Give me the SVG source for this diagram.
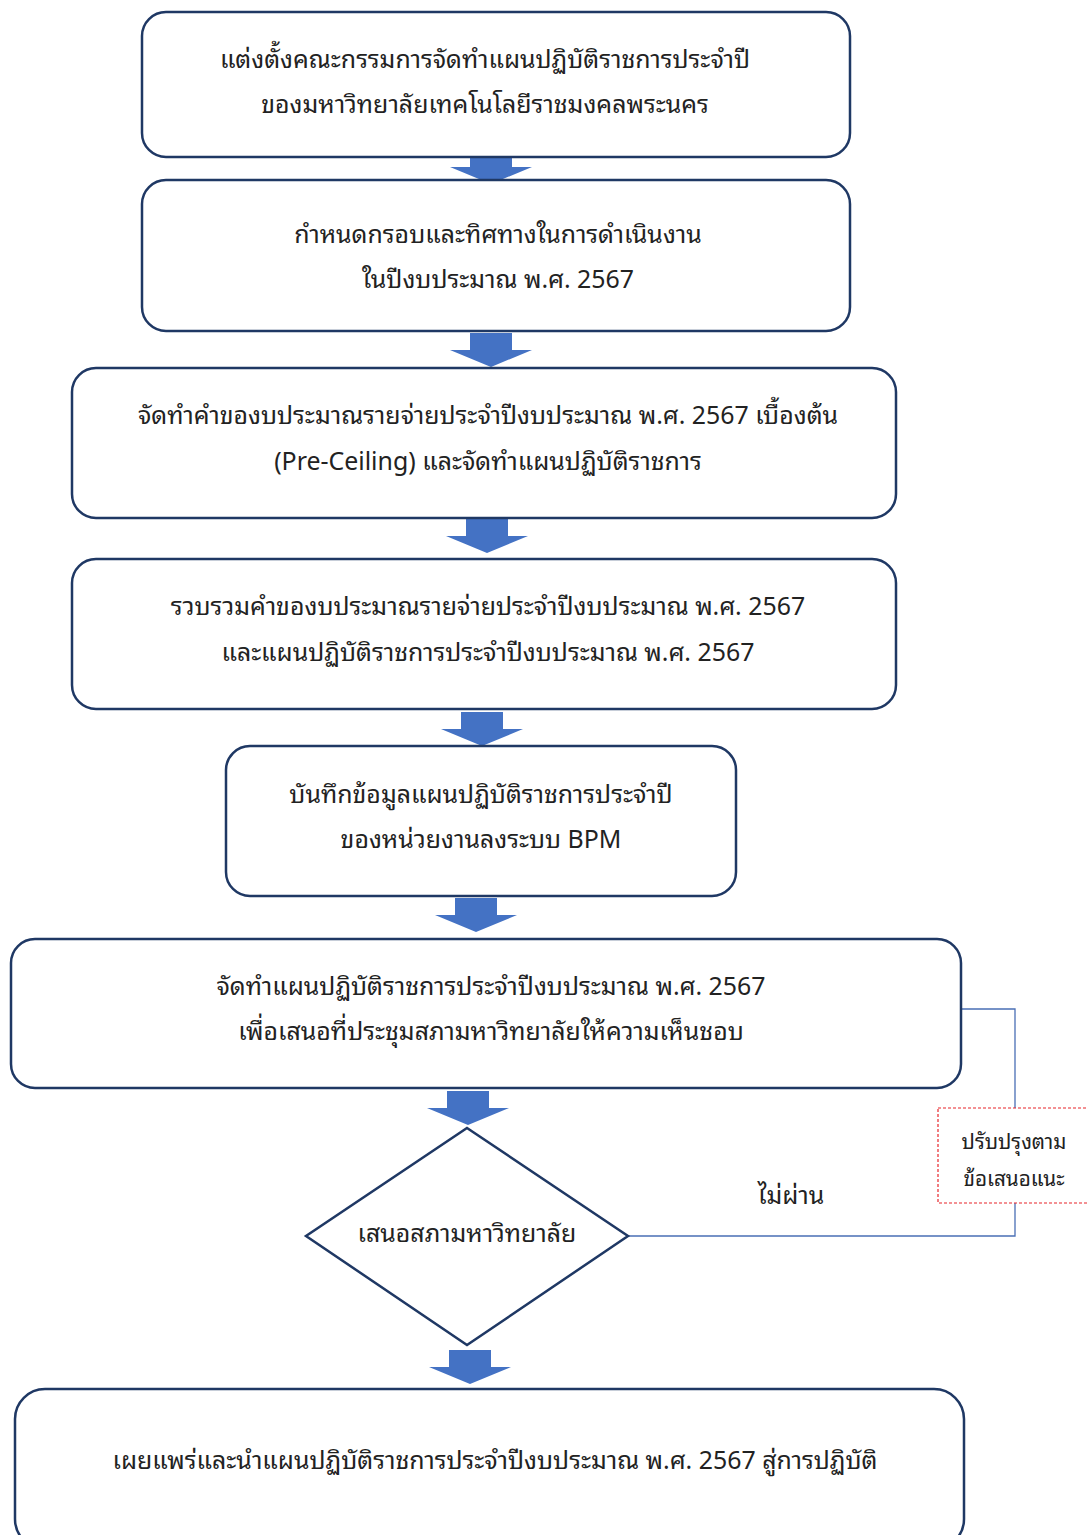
<svg xmlns="http://www.w3.org/2000/svg" width="1088" height="1535" viewBox="0 0 1088 1535">
<defs>
<style>
.box{fill:#fff;stroke:#1f3864;stroke-width:2.5}
.t{font-family:"Noto Sans Thai Looped","Loma","Garuda","Noto Sans Thai","Noto Sans","DejaVu Sans",sans-serif;font-size:24.9px;fill:#222;text-anchor:middle}
.s{font-size:20.7px}
.ba{fill:#4472c4}
.conn{fill:none;stroke:#4a6fb5;stroke-width:1.3}
</style>
<path id="barrow" d="M-21,0 H21 V17 H41 L0,34 L-41,17 H-21 Z"/>
</defs>
<rect width="1088" height="1535" fill="#fff"/>
<g id="connectors">
<polyline class="conn" points="961,1009 1015,1009 1015,1236 628,1236"/>
<use href="#barrow" class="ba" x="491" y="150"/>
<use href="#barrow" class="ba" x="491" y="333"/>
<use href="#barrow" class="ba" x="487" y="519"/>
<use href="#barrow" class="ba" x="482" y="712"/>
<use href="#barrow" class="ba" x="476" y="898"/>
<use href="#barrow" class="ba" x="468" y="1091"/>
<use href="#barrow" class="ba" x="470" y="1350"/>
<text class="t" x="791" y="1204">ไม่ผ่าน</text>
</g>
<g id="n1"><rect class="box" x="142" y="12" width="708" height="145" rx="24"/>
<text class="t" x="485" y="68">แต่งตั้งคณะกรรมการจัดทำแผนปฏิบัติราชการประจำปี</text>
<text class="t" x="485" y="113">ของมหาวิทยาลัยเทคโนโลยีราชมงคลพระนคร</text></g>
<g id="n2"><rect class="box" x="142" y="180" width="708" height="151" rx="24"/>
<text class="t" x="498" y="243">กำหนดกรอบและทิศทางในการดำเนินงาน</text>
<text class="t" x="498" y="288">ในปีงบประมาณ พ.ศ. 2567</text></g>
<g id="n3"><rect class="box" x="72" y="368" width="824" height="150" rx="24"/>
<text class="t" x="488" y="424">จัดทำคำของบประมาณรายจ่ายประจำปีงบประมาณ พ.ศ. 2567 เบื้องต้น</text>
<text class="t" x="488" y="470">(Pre-Ceiling) และจัดทำแผนปฏิบัติราชการ</text></g>
<g id="n4"><rect class="box" x="72" y="559" width="824" height="150" rx="24"/>
<text class="t" x="488" y="615">รวบรวมคำของบประมาณรายจ่ายประจำปีงบประมาณ พ.ศ. 2567</text>
<text class="t" x="488" y="661">และแผนปฏิบัติราชการประจำปีงบประมาณ พ.ศ. 2567</text></g>
<g id="n5"><rect class="box" x="226" y="746" width="510" height="150" rx="24"/>
<text class="t" x="481" y="803">บันทึกข้อมูลแผนปฏิบัติราชการประจำปี</text>
<text class="t" x="481" y="848">ของหน่วยงานลงระบบ BPM</text></g>
<g id="n6"><rect class="box" x="11" y="939" width="950" height="149" rx="24"/>
<text class="t" x="491" y="995">จัดทำแผนปฏิบัติราชการประจำปีงบประมาณ พ.ศ. 2567</text>
<text class="t" x="491" y="1040">เพื่อเสนอที่ประชุมสภามหาวิทยาลัยให้ความเห็นชอบ</text></g>
<g id="n7"><polygon class="box" points="467,1128 628,1236 467,1345 306,1236"/>
<text class="t" x="467" y="1242">เสนอสภามหาวิทยาลัย</text></g>
<g id="n8"><rect class="box" x="15" y="1389" width="949" height="160" rx="30"/>
<text class="t" x="495" y="1469">เผยแพร่และนำแผนปฏิบัติราชการประจำปีงบประมาณ พ.ศ. 2567 สู่การปฏิบัติ</text></g>
<g id="n9"><rect x="938" y="1108" width="152" height="95" fill="#fff" stroke="#e8252a" stroke-width="1.2" stroke-dasharray="3,2"/>
<text class="t s" x="1014" y="1149">ปรับปรุงตาม</text>
<text class="t s" x="1014" y="1186">ข้อเสนอแนะ</text></g>
</svg>
